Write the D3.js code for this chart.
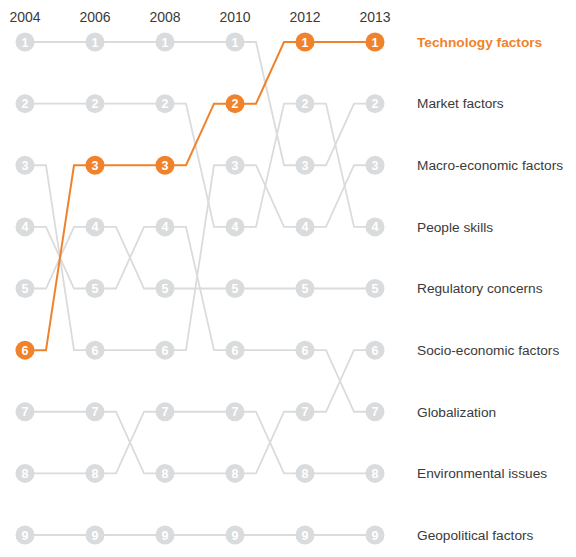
<!DOCTYPE html>
<html>
<head>
<meta charset="utf-8">
<script src="https://cdn.jsdelivr.net/npm/d3@7"></script>
<style>
  body { margin: 0; background: #fff; }
  svg { display: block; font-family: "Liberation Sans", Arial, sans-serif; }
</style>
</head>
<body>
<div class="bumpChart"></div>
<script>
const years = ["2004", "2006", "2008", "2010", "2012", "2013"];
const ranks = [1, 2, 3, 4, 5, 6, 7, 8, 9];

// category names, in 2013 order
const categories = [
  "Technology factors",
  "Market factors",
  "Macro-economic factors",
  "People skills",
  "Regulatory concerns",
  "Socio-economic factors",
  "Globalization",
  "Environmental issues",
  "Geopolitical factors"
];

// rank of each category per year (same order as years)
const technology = [6, 3, 3, 2, 1, 1];
const market = [1, 1, 1, 1, 3, 2];
const macroEconomic = [3, 6, 6, 3, 4, 3];
const peopleSkills = [2, 2, 2, 4, 2, 4];
const regulatory = [5, 4, 5, 5, 5, 5];
const socioEconomic = [7, 7, 8, 8, 7, 6];
const globalization = [4, 5, 4, 6, 6, 7];
const environmental = [8, 8, 7, 7, 8, 8];
const geopolitical = [9, 9, 9, 9, 9, 9];

const highlight = "Technology factors";

const series = [
  technology, market, macroEconomic, peopleSkills, regulatory,
  socioEconomic, globalization, environmental, geopolitical
].map((r, i) => ({ name: categories[i], ranks: r }));

const width = 576;
const height = 557;
const orange = "#f0822c";
const grey = "#dadbdc";

const x = d3.scalePoint().domain(years).range([25, 375]);
const y = d3.scalePoint().domain(ranks).range([42, 535]);

const svg = d3
  .select(".bumpChart")
  .append("svg")
  .attr("width", width)
  .attr("height", height);

// year headers
svg
  .append("g")
  .attr("text-anchor", "middle")
  .attr("font-size", 14)
  .attr("fill", "#3a3a3a")
  .selectAll()
  .data(years)
  .join("text")
  .attr("x", (d) => x(d))
  .attr("y", 22)
  .text((d) => d);

// build the bump path: flat stub, slanted part, flat stub
const step = x.step();
const stub = step * 0.3;
const line = d3.line();
const pathFor = (d) => {
  const pts = [];
  d.ranks.forEach((r, i) => {
    const cx = x(years[i]);
    const cy = y(r);
    if (i > 0) pts.push([cx - stub, cy]);
    pts.push([cx, cy]);
    if (i < years.length - 1) pts.push([cx + stub, cy]);
  });
  return line(pts);
};

// grey first, highlighted on top
const ordered = series
  .filter((d) => d.name !== highlight)
  .concat(series.filter((d) => d.name === highlight));

svg
  .append("g")
  .attr("fill", "none")
  .selectAll()
  .data(ordered)
  .join("path")
  .attr("stroke", (d) => (d.name === highlight ? orange : grey))
  .attr("stroke-width", (d) => (d.name === highlight ? 2 : 1.8))
  .attr("d", pathFor);

// circles with rank numbers
const dots = svg
  .append("g")
  .selectAll()
  .data(
    ordered.flatMap((d) =>
      d.ranks.map((r, i) => ({ name: d.name, rank: r, year: years[i] }))
    )
  )
  .join("g")
  .attr("transform", (d) => `translate(${x(d.year)},${y(d.rank)})`);

dots
  .append("circle")
  .attr("r", 9.5)
  .attr("fill", (d) => (d.name === highlight ? orange : grey));

dots
  .append("text")
  .attr("text-anchor", "middle")
  .attr("dy", "0.36em")
  .attr("font-size", 12.5)
  .attr("font-weight", "bold")
  .attr("fill", "#fff")
  .text((d) => d.rank);

// category labels at the right, by last rank
svg
  .append("g")
  .attr("font-size", 13.7)
  .selectAll()
  .data(series)
  .join("text")
  .attr("x", 417)
  .attr("y", (d) => y(d.ranks[d.ranks.length - 1]))
  .attr("dy", "0.35em")
  .attr("fill", (d) => (d.name === highlight ? orange : "#3a3a3a"))
  .attr("font-weight", (d) => (d.name === highlight ? "bold" : "normal"))
  .text((d) => d.name);
</script>
</body>
</html>
